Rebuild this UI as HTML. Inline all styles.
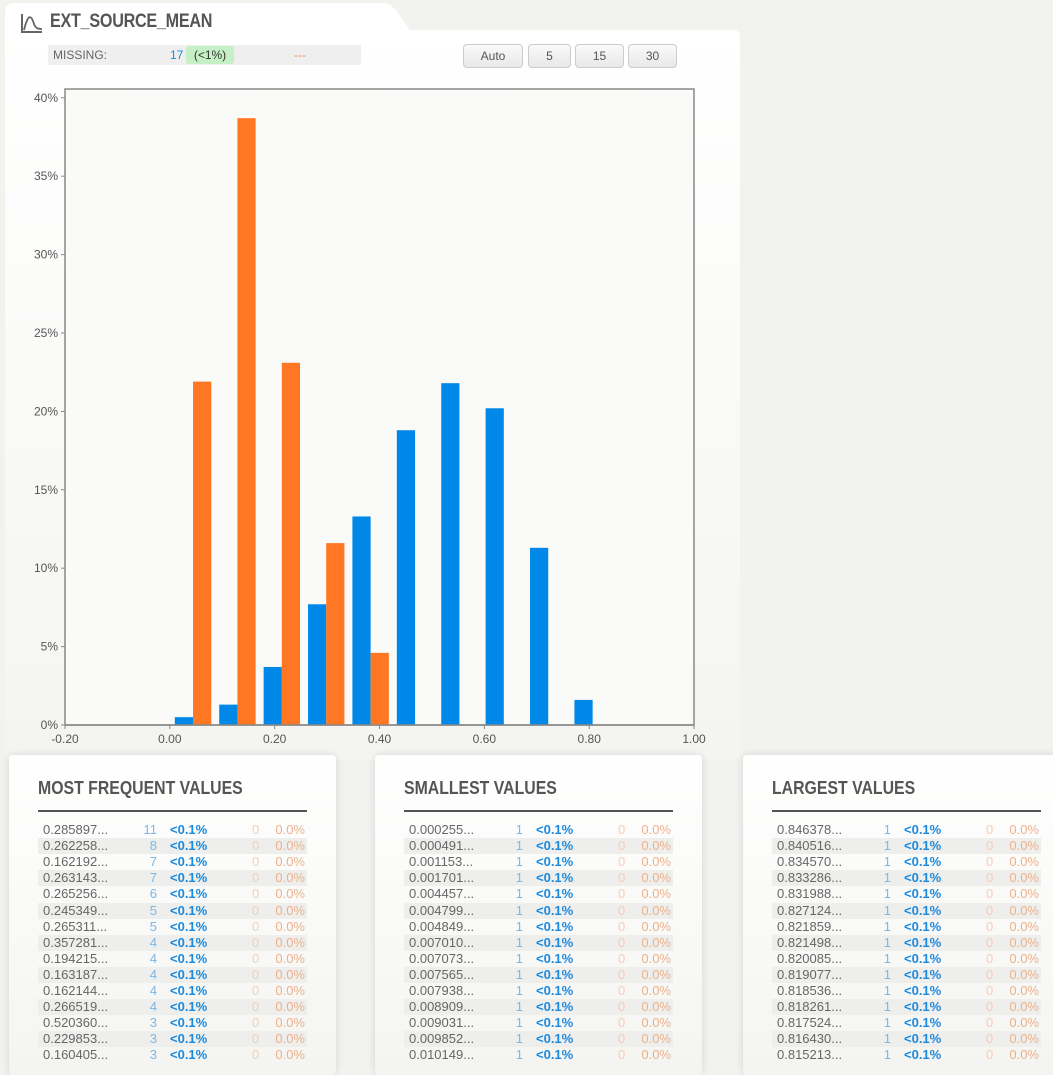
<!DOCTYPE html>
<html><head><meta charset="utf-8">
<style>
body{margin:0;width:1053px;height:1058px;overflow:hidden;background:#f2f2ef;font-family:"Liberation Sans",sans-serif;position:relative}
.panel{position:absolute;left:5px;top:30px;width:735px;height:730px;background:linear-gradient(#fff,#f4f4f1);border-radius:6px}
.tab{position:absolute;left:5px;top:3px;width:370px;height:40px;background:#fff;border-radius:8px 8px 0 0}
.tab:after{content:"";position:absolute;right:-30px;top:0;width:60px;height:40px;background:#fff;transform:skewX(35deg);border-radius:0 8px 0 0}
.title{position:absolute;left:50px;top:11px;font-size:19px;font-weight:bold;color:#555;letter-spacing:-0.3px;transform:scaleX(0.85);transform-origin:left}
.miss{position:absolute;left:48px;top:45px;width:313px;height:20px;background:#efefef;font-size:12px;color:#666}
.btn{position:absolute;top:44px;height:22px;border:1px solid #ccc;border-radius:4px;background:linear-gradient(#fafafa,#e8e8e8);font-size:12px;color:#555;text-align:center;line-height:22px}
.card{position:absolute;top:755px;width:327px;height:320px;background:linear-gradient(#fff,#f4f4f1);border-radius:4px;box-shadow:0 0 8px rgba(0,0,0,0.12)}
.card h3{position:absolute;left:29px;top:23px;margin:0;font-size:18px;color:#555;font-weight:bold;transform:scaleX(0.88);transform-origin:left}
.card .rule{position:absolute;left:29px;top:55px;width:269px;height:2px;background:#555}
.row{position:absolute;left:29px;width:269px;height:16px;font-size:13px;line-height:16px}
.row span{position:absolute}
</style></head><body>
<div class="tab"></div>
<div class="panel"></div>
<svg style="position:absolute;left:20px;top:12px" width="24" height="22"><path d="M2 2V20H22" stroke="#666" stroke-width="2" fill="none"/><path d="M4 18C8 2 11 2 14 12C16 17 19 17 22 17" stroke="#666" stroke-width="1.8" fill="none"/></svg>
<div class="title">EXT_SOURCE_MEAN</div>
<div class="miss"><span style="position:absolute;left:5px;top:3px">MISSING:</span><span style="position:absolute;left:122px;top:3px;color:#1a8ae0">17</span><span style="position:absolute;left:138px;top:1px;width:48px;height:18px;background:#c5f0c5;border-radius:3px;color:#333;text-align:center;line-height:18px">(&lt;1%)</span><span style="position:absolute;left:246px;top:3px;color:#e88a55">---</span></div>
<div class="btn" style="left:463px;width:58px">Auto</div>
<div class="btn" style="left:528px;width:41px">5</div>
<div class="btn" style="left:575px;width:47px">15</div>
<div class="btn" style="left:628px;width:47px">30</div>
<svg id="chart" style="position:absolute;left:0;top:0" width="740" height="760"></svg>
<div id="cards"></div>
<script>
const binStarts=[0.0095,0.0942,0.1789,0.2636,0.3483,0.4330,0.5177,0.6024,0.6871,0.7718];
const targetZero=[0.5,1.3,3.7,7.7,13.3,18.8,21.8,20.2,11.3,1.6];
const targetOne=[21.9,38.7,23.1,11.6,4.6,0,0,0,0,0];
const xTicks=[-0.2,0,0.2,0.4,0.6,0.8,1.0];
const xTickLabels=["-0.20","0.00","0.20","0.40","0.60","0.80","1.00"];
const yTicks=[0,5,10,15,20,25,30,35,40];
const binW=0.0847;
const X=v=>65+(v+0.2)*524.2, Y=v=>725-v*15.68;
const svg=document.getElementById('chart');const NS='http://www.w3.org/2000/svg';
function mk(t,a){const e=document.createElementNS(NS,t);for(const k in a)e.setAttribute(k,a[k]);svg.appendChild(e);return e;}
const fr=mk('rect',{x:65,y:89,width:629,height:636,fill:'#fafaf8',stroke:'#888','stroke-width':1.5});


yTicks.forEach(t=>{const y=Y(t);mk('line',{x1:61,x2:65,y1:y,y2:y,stroke:'#888'});
const tx=mk('text',{x:58,y:y+4,'text-anchor':'end','font-size':12,fill:'#555'});tx.textContent=t+'%';

});
xTicks.forEach((t,i)=>{const x=X(t);mk('line',{x1:x,x2:x,y1:725,y2:729,stroke:'#888'});
const tx=mk('text',{x:x,y:743,'text-anchor':'middle','font-size':12,fill:'#555'});tx.textContent=xTickLabels[i];

});
const hw=binW/2*0.82;
binStarts.forEach((s,i)=>{
 if(targetZero[i]>0){const r=mk('rect',{x:X(s),y:Y(targetZero[i]),width:X(s+hw)-X(s),height:725-Y(targetZero[i]),fill:'#0088e8'});
 
 }
 if(targetOne[i]>0){const r=mk('rect',{x:X(s+hw),y:Y(targetOne[i]),width:X(s+hw)-X(s),height:725-Y(targetOne[i]),fill:'#ff7722'});
 
 }
});
mk('line',{x1:65,x2:694,y1:725,y2:725,stroke:'#888','stroke-width':1.5});
const cards=[
 {t:'MOST FREQUENT VALUES',x:9,v:['0.285897...','0.262258...','0.162192...','0.263143...','0.265256...','0.245349...','0.265311...','0.357281...','0.194215...','0.163187...','0.162144...','0.266519...','0.520360...','0.229853...','0.160405...'],c:[11,8,7,7,6,5,5,4,4,4,4,4,3,3,3]},
 {t:'SMALLEST VALUES',x:375,v:['0.000255...','0.000491...','0.001153...','0.001701...','0.004457...','0.004799...','0.004849...','0.007010...','0.007073...','0.007565...','0.007938...','0.008909...','0.009031...','0.009852...','0.010149...'],c:Array(15).fill(1)},
 {t:'LARGEST VALUES',x:743,v:['0.846378...','0.840516...','0.834570...','0.833286...','0.831988...','0.827124...','0.821859...','0.821498...','0.820085...','0.819077...','0.818536...','0.818261...','0.817524...','0.816430...','0.815213...'],c:Array(15).fill(1)}];
const host=document.getElementById('cards');
cards.forEach(cd=>{const d=document.createElement('div');d.className='card';d.style.left=cd.x+'px';


let h='<h3>'+cd.t+'</h3><div class="rule"></div>';
cd.v.forEach((v,i)=>{h+='<div class="row" style="top:'+(67+i*16.1)+'px;background:'+(i%2?'#eeeeec':'transparent')+'"><span style="left:5px;color:#666">'+v+'</span><span style="right:150px;color:#7ab8ea">'+cd.c[i]+'</span><span style="left:132px;color:#1a8ae0;font-weight:bold">&lt;0.1%</span><span style="left:214px;color:#f5cdb5">0</span><span style="right:2px;color:#f0b08a">0.0%</span></div>';});
d.innerHTML=h;host.appendChild(d);});
</script>
</body></html>
